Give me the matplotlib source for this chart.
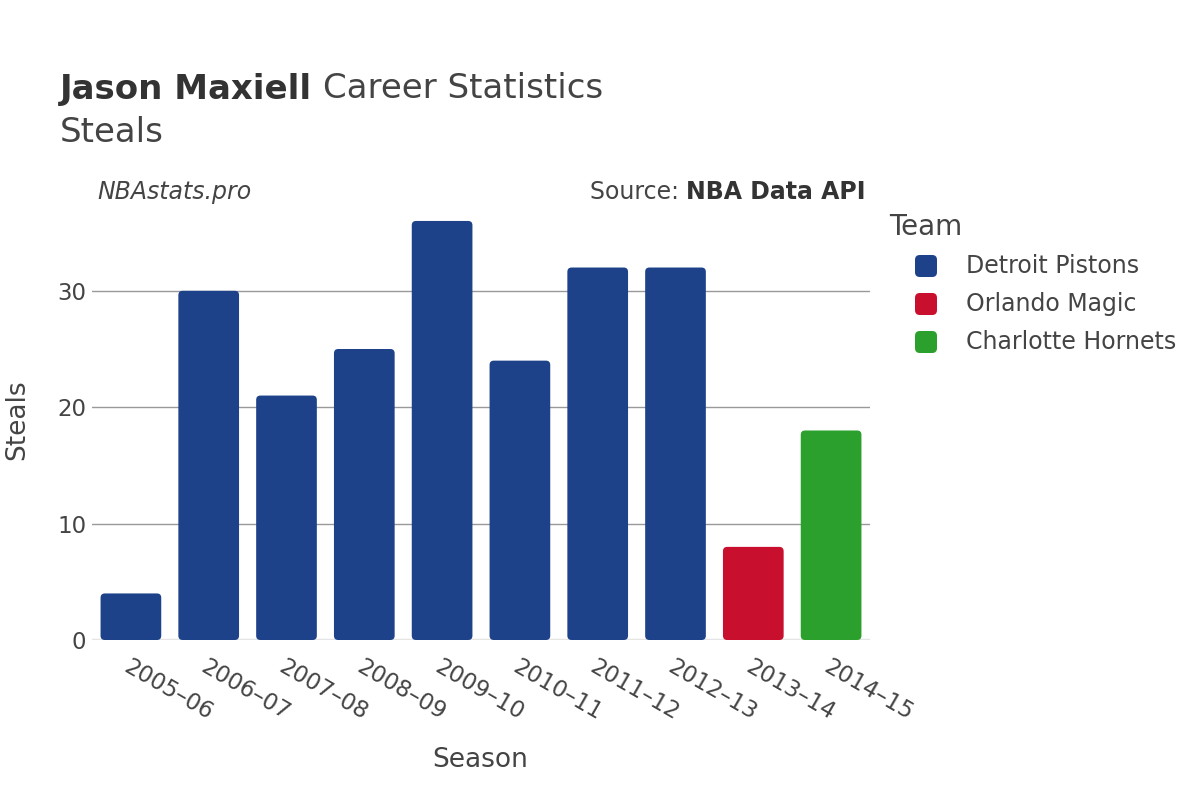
import matplotlib
matplotlib.use("Agg")
import matplotlib.pyplot as plt
from matplotlib.patches import FancyBboxPatch

seasons = ["2005–06", "2006–07", "2007–08", "2008–09", "2009–10",
           "2010–11", "2011–12", "2012–13", "2013–14", "2014–15"]
steals = [4, 30, 21, 25, 36, 24, 32, 32, 8, 18]
teams = ["Detroit Pistons"] * 8 + ["Orlando Magic", "Charlotte Hornets"]
team_colors = {
    "Detroit Pistons": "#1d428a",
    "Orlando Magic": "#c8102e",
    "Charlotte Hornets": "#2ca02c",
}
yticks = [0, 10, 20, 30]

plt.rcParams["font.family"] = ["DejaVu Sans"]
text_color = "#444444"
W, H = 1200, 800

fig = plt.figure(figsize=(12, 8), dpi=100)
ax = fig.add_axes([92 / W, 0.2, (870 - 92) / W, 0.55])

x = list(range(len(seasons)))
bars = ax.bar(x, steals, width=0.78, color=[team_colors[t] for t in teams])

# swap plain rectangles for slightly rounded ones
for rect, t in zip(bars, teams):
    rect.set_visible(False)
    fb = FancyBboxPatch((rect.get_x(), rect.get_y()), rect.get_width(), rect.get_height(),
                        boxstyle="round,pad=0,rounding_size=0.055",
                        mutation_aspect=6.7, facecolor=team_colors[t],
                        edgecolor="none", zorder=3)
    ax.add_patch(fb)

ax.set_xlim(-0.5, len(seasons) - 0.5)
ax.set_ylim(0, 37.8)
ax.set_yticks(yticks)
ax.grid(axis="y", color="#999999", linewidth=1, zorder=0)
ax.axhline(0, color="#e5e5e5", linewidth=2.5, zorder=2)
for s in ax.spines.values():
    s.set_visible(False)
ax.tick_params(axis="both", length=0, labelsize=16.5, colors=text_color)
ax.tick_params(axis="y", pad=4)
ax.set_xticks(x)
ax.set_xticklabels(seasons, rotation=-30, ha="left", va="top", rotation_mode="anchor")
ax.tick_params(axis="x", pad=11)

fig.text(480 / W, 1 - 760 / H, "Season", fontsize=19, color=text_color, ha="center", va="center")
fig.text(17 / W, 1 - 420 / H, "Steals", fontsize=19, color=text_color, ha="center", va="center",
         rotation=90)

fig.canvas.draw()
r = fig.canvas.get_renderer()

# title line: bold name followed by regular text
t1 = fig.text(60 / W, 1 - 89 / H, "Jason Maxiell", fontsize=24.5, fontweight="bold",
              color="#333333", va="center")
x1 = t1.get_window_extent(r).x1
fig.text((x1 + 11) / W, 1 - 89 / H, "Career Statistics", fontsize=24.5, color=text_color,
         va="center")
fig.text(60 / W, 1 - 132 / H, "Steals", fontsize=24.5, color=text_color, va="center")

fig.text(97 / W, 1 - 192 / H, "NBAstats.pro", fontsize=17, style="italic", color=text_color,
         va="center")
src = fig.text(866 / W, 1 - 192 / H, "NBA Data API", fontsize=17, fontweight="bold",
               color="#333333", va="center", ha="right")
x0 = src.get_window_extent(r).x0
fig.text(x0 / W, 1 - 192 / H, "Source: ", fontsize=17, color=text_color, va="center", ha="right")

# legend drawn by hand to match spacing
fig.text(889 / W, 1 - 227 / H, "Team", fontsize=20, color=text_color, va="center")
for i, (name, col) in enumerate(team_colors.items()):
    yc = 266 + 38 * i
    sq = FancyBboxPatch(((926 - 11) / W, 1 - (yc + 11) / H), 22 / W, 22 / H,
                        boxstyle="round,pad=0,rounding_size=0.004", mutation_aspect=1.5,
                        transform=fig.transFigure, facecolor=col, edgecolor="none")
    fig.patches.append(sq)
    fig.text(966 / W, 1 - yc / H, name, fontsize=17, color=text_color, va="center")

fig.savefig("out.png", dpi=100, facecolor="white")
